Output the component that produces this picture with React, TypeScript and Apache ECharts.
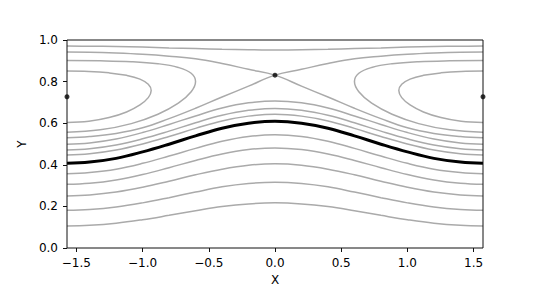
import React, { useEffect, useRef } from "react";
import * as echarts from "echarts";

const HALF_PI = 1.5708;

// x positions where the open contour lines were read
const xGrid = [-1.5708, -1.4, -1.2, -1.0, -0.8, -0.6, -0.4, -0.2, 0, 0.2, 0.4, 0.6, 0.8, 1.0, 1.2, 1.4, 1.5708];

// open gray contour lines (values at xGrid)
const lineTop = [0.971, 0.970, 0.969, 0.966, 0.962, 0.959, 0.955, 0.953, 0.952, 0.953, 0.955, 0.959, 0.962, 0.966, 0.969, 0.970, 0.971];
const lineL1 = [0.499, 0.505, 0.524, 0.555, 0.594, 0.635, 0.673, 0.698, 0.707, 0.698, 0.673, 0.635, 0.594, 0.555, 0.524, 0.505, 0.499];
const lineL2 = [0.471, 0.477, 0.495, 0.525, 0.562, 0.602, 0.638, 0.662, 0.671, 0.662, 0.638, 0.602, 0.562, 0.525, 0.495, 0.477, 0.471];
const lineL3 = [0.447, 0.453, 0.471, 0.500, 0.536, 0.575, 0.611, 0.634, 0.643, 0.634, 0.611, 0.575, 0.536, 0.500, 0.471, 0.453, 0.447];
const lineB1 = [0.357, 0.363, 0.379, 0.407, 0.442, 0.479, 0.513, 0.536, 0.544, 0.536, 0.513, 0.479, 0.442, 0.407, 0.379, 0.363, 0.357];
const lineB2 = [0.306, 0.311, 0.327, 0.353, 0.386, 0.421, 0.452, 0.473, 0.481, 0.473, 0.452, 0.421, 0.386, 0.353, 0.327, 0.311, 0.306];
const lineB3 = [0.250, 0.255, 0.269, 0.292, 0.321, 0.352, 0.379, 0.398, 0.405, 0.398, 0.379, 0.352, 0.321, 0.292, 0.269, 0.255, 0.250];
const lineB4 = [0.181, 0.185, 0.197, 0.217, 0.242, 0.269, 0.294, 0.310, 0.316, 0.310, 0.294, 0.269, 0.242, 0.217, 0.197, 0.185, 0.181];
const lineB5 = [0.106, 0.109, 0.119, 0.136, 0.157, 0.179, 0.199, 0.212, 0.217, 0.212, 0.199, 0.179, 0.157, 0.136, 0.119, 0.109, 0.106];

// highlighted (thick black) trajectory
const thickLine = [0.407, 0.413, 0.431, 0.462, 0.499, 0.539, 0.576, 0.600, 0.609, 0.600, 0.576, 0.539, 0.499, 0.462, 0.431, 0.413, 0.407];

// separatrix branches crossing at the saddle
const sepDown = [0.942, 0.941, 0.937, 0.931, 0.922, 0.910, 0.887, 0.859, 0.831, 0.778, 0.726, 0.672, 0.622, 0.578, 0.551, 0.536, 0.530];
const sepUp = [0.530, 0.536, 0.551, 0.578, 0.622, 0.672, 0.726, 0.778, 0.831, 0.859, 0.887, 0.910, 0.922, 0.931, 0.937, 0.941, 0.942];

// closed orbits around the left centre (right ones are the mirrored x values)
const innerOrbitX = [-1.5708, -1.406, -1.253, -1.121, -1.020, -0.957, -0.935, -0.957, -1.020, -1.121, -1.253, -1.406, -1.5708];
const innerOrbitY = [0.851, 0.849, 0.842, 0.830, 0.812, 0.787, 0.757, 0.723, 0.688, 0.654, 0.627, 0.609, 0.603];
const outerOrbitX = [-1.5708, -1.320, -1.085, -0.884, -0.730, -0.633, -0.600, -0.633, -0.730, -0.884, -1.085, -1.320, -1.5708];
const outerOrbitY = [0.901, 0.900, 0.896, 0.886, 0.868, 0.840, 0.800, 0.751, 0.696, 0.643, 0.598, 0.568, 0.557];
const innerOrbitRX = [1.5708, 1.406, 1.253, 1.121, 1.020, 0.957, 0.935, 0.957, 1.020, 1.121, 1.253, 1.406, 1.5708];
const outerOrbitRX = [1.5708, 1.320, 1.085, 0.884, 0.730, 0.633, 0.600, 0.633, 0.730, 0.884, 1.085, 1.320, 1.5708];

// fixed points
const pointX = [-1.5708, 0, 1.5708];
const pointY = [0.727, 0.831, 0.727];

const xTicks = [-1.5, -1.0, -0.5, 0, 0.5, 1.0, 1.5];

const FONT = "DejaVu Sans";
const GRAY = "#aaaaaa";

const pairs = (xs: number[], ys: number[]) => xs.map((x, i) => [x, ys[i]]);
const fmt = (v: number) => v.toFixed(1).replace("-", "\u2212");

function grayLine(data: number[][]) {
  return {
    type: "line",
    data,
    showSymbol: false,
    symbol: "none",
    smooth: 0.4,
    silent: true,
    lineStyle: { color: GRAY, width: 1.5 },
    z: 2,
  };
}

export default function App() {
  const ref = useRef<HTMLDivElement>(null);
  useEffect(() => {
    const chart = echarts.init(ref.current!, null, { renderer: "svg" });
    const grays = [lineTop, lineL1, lineL2, lineL3, lineB1, lineB2, lineB3, lineB4, lineB5, sepDown, sepUp].map((ys) =>
      grayLine(pairs(xGrid, ys))
    );
    const orbits = [
      pairs(innerOrbitX, innerOrbitY),
      pairs(outerOrbitX, outerOrbitY),
      pairs(innerOrbitRX, innerOrbitY),
      pairs(outerOrbitRX, outerOrbitY),
    ].map(grayLine);
    chart.setOption({
      animation: false,
      backgroundColor: "#ffffff",
      grid: {
        left: 67,
        right: 55,
        top: 40,
        bottom: 37,
        containLabel: false,
        outerBoundsMode: "none",
        show: true,
        borderColor: "#111",
        borderWidth: 1,
        backgroundColor: "transparent",
        z: 10,
      },
      xAxis: {
        type: "value",
        min: -HALF_PI,
        max: HALF_PI,
        axisLine: { show: false, onZero: false },
        splitLine: { show: false },
        axisTick: { show: true, length: 4, lineStyle: { color: "#111" }, customValues: xTicks },
        axisLabel: {
          customValues: xTicks,
          formatter: fmt,
          fontFamily: FONT,
          fontSize: 12,
          lineHeight: 12,
          color: "#000",
          margin: 9,
        },
        name: "X",
        nameLocation: "middle",
        nameGap: 25,
        nameTextStyle: { fontFamily: FONT, fontSize: 12, lineHeight: 12, color: "#000" },
      },
      yAxis: {
        type: "value",
        min: 0,
        max: 1,
        interval: 0.2,
        axisLine: { show: false, onZero: false },
        splitLine: { show: false },
        axisTick: { show: true, length: 4, lineStyle: { color: "#111" } },
        axisLabel: { formatter: fmt, fontFamily: FONT, fontSize: 12, color: "#000", margin: 9 },
        name: "Y",
        nameLocation: "middle",
        nameGap: 35,
        nameTextStyle: { fontFamily: FONT, fontSize: 12, lineHeight: 12, color: "#000" },
      },
      series: [
        ...grays,
        ...orbits,
        {
          type: "line",
          data: pairs(xGrid, thickLine),
          showSymbol: false,
          symbol: "none",
          smooth: 0.4,
          silent: true,
          lineStyle: { color: "#000", width: 3 },
          z: 3,
        },
        {
          type: "scatter",
          data: pairs(pointX, pointY),
          symbol: "circle",
          symbolSize: 5,
          itemStyle: { color: "#000" },
          silent: true,
          z: 4,
        },
      ],
    });
    return () => chart.dispose();
  }, []);
  return <div ref={ref} style={{ position: "fixed", left: 0, top: 0, width: 538, height: 285, background: "#fff" }} />;
}
